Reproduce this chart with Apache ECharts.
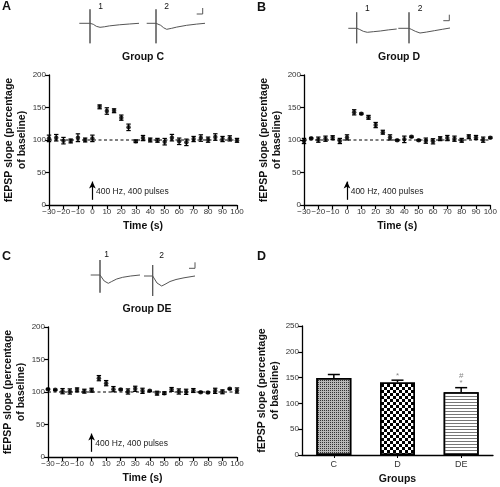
<!DOCTYPE html>
<html><head><meta charset="utf-8">
<script src="https://cdn.jsdelivr.net/npm/echarts@6/dist/echarts.min.js"></script>
<style>html,body{margin:0;padding:0;background:#fff}#c{width:500px;height:487px}</style>
</head><body><div id="c"></div><script>
// ---------- data ----------
const timeSec = [-30,-25,-20,-15,-10,-5,0,5,10,15,20,25,30,35,40,45,50,55,60,65,70,75,80,85,90,95,100];
const groupCMean = [102.5,103.5,99,98.5,103.5,100,102.5,151,144.6,145,134.4,119.5,98,103,100,99.5,97.4,103.6,98,96.4,101.5,103,100.5,104.6,101.5,102.5,99.5];
const groupCSem  = [5,5,5,3,6,3,5,3,5,3,4,5,2,4,3,3,5,5,5,5,4,5,4,5,4,4,3];
const groupDMean = [98.5,102.6,100.5,102,103.6,98.5,104,142.6,140.5,134.9,123,112,104,99.5,101,105,99.5,99,98,102,103,102,99.5,105,104,100.5,103.6];
const groupDSem  = [4,1,4,4,3,4,4,4,1,3,4,3,4,1,5,1,1,4,4,3,4,4,3,3,3,4,1];
const groupDEMean = [104.4,103.3,101.3,100.8,103.3,101.3,102.8,121.3,113.6,104.4,103.9,100.8,104.9,101.8,101.8,98.2,98.2,103.9,100.8,100.3,102.3,99.7,99.2,101.8,100.3,104.9,102.3];
const groupDESem  = [1,1,4,4,3,3,3,4,4,4,1,4,4,4,1,3,2,3,4,4,3,1,1,4,3,1,4];
const baselinePct = 100;
const stimArrow = [8, 36];          // arrow extent (percentage units) at t = 0
const stimLabel = '400 Hz, 400 pulses';

const barGroups = ['C','D','DE'];
const barMean = [149, 140.5, 121.5];
const barSem  = [7, 4.5, 9];
const barSig  = ['', '*', '#\n*'];

// example fEPSP traces: [time, amplitude] (arbitrary units, baseline 0)
const traceC1 = [[0,0],[10.7,0],[10.7,14],[10.7,-20],[10.7,0],[12,1],[14,-1],[17,-3],[20.7,-4],[25,-3.5],[30,-2.6],[40,-1.5],[50,-0.7],[59.7,0]];
const traceC2 = [[0,0],[9.3,0],[9.3,14],[9.3,-20],[9.3,0],[11,1],[14,-2],[17,-4.5],[20,-6],[25,-5],[30,-3.8],[40,-2],[50,-0.8],[58.3,0]];
const traceD1 = [[0,0],[8.4,0],[8.4,16],[8.4,-15],[8.4,0],[11,-1],[15,-3],[19,-4],[25,-3.4],[32,-2.7],[40,-1.6],[48.4,-0.7]];
const traceD2 = [[0,0],[10.7,0],[10.7,16],[10.7,-15],[10.7,0],[13,-1],[17,-3],[21.7,-4.7],[28,-3.8],[36,-2.4],[44,-1],[51.7,0.3]];
const traceDE1 = [[0,0],[9.3,0],[9.3,15],[9.3,-17.7],[9.3,0],[11,-2],[13.5,-6],[17.6,-8.3],[21,-6.5],[26,-4],[32,-2.3],[40,-1],[49.3,0]];
const traceDE2 = [[0,0],[8.7,0],[8.7,11],[8.7,-20],[8.7,0],[10.5,-2],[13,-7],[17.7,-10],[21,-8.3],[26,-5.5],[32,-3.5],[40,-1.8],[51,0]];
const scaleBar = [[-6,0],[0,0],[0,6]];

// ---------- layout ----------
const FONT = '"Liberation Sans", Arial, sans-serif';
const mainGrids = [
  {left:49, top:75, width:188, height:130},
  {left:304, top:75, width:189, height:130},
  {left:48, top:327, width:189, height:130},
  {left:302, top:326, width:191, height:131}
];
const insetGrids = [
  {left:70, top:0, width:150, height:50},
  {left:340, top:0, width:120, height:50},
  {left:80, top:250, width:130, height:50}
];
const insetTraces = [
  [{d:traceC1, x0:9.3, y0:23.3}, {d:traceC2, x0:76.7, y0:23.3}, {d:scaleBar, x0:132.7, y0:14}],
  [{d:traceD1, x0:8.3, y0:28.3}, {d:traceD2, x0:58.3, y0:28.3}, {d:scaleBar, x0:109.3, y0:20.7}],
  [{d:traceDE1, x0:10.7, y0:25}, {d:traceDE2, x0:64, y0:26}, {d:scaleBar, x0:115, y0:18.3}]
];

const axisLine = {show:true, onZero:false, lineStyle:{color:'#000', width:1.3}};
const axisTick = {show:true, length:4, lineStyle:{color:'#000', width:1.2}};
const axisLabel = {color:'#333', fontSize:8, fontFamily:FONT, margin:3};
const nameStyle = {color:'#111', fontSize:10.5, fontWeight:'bold', fontFamily:FONT, lineHeight:13};
const minus = v => String(v).replace('-', '\u2212');

const xAxes = [], yAxes = [], series = [];
const lineSets = [[groupCMean,groupCSem],[groupDMean,groupDSem],[groupDEMean,groupDESem]];

function errRender(params, api){
  const x = api.value(0), y = api.value(1), e = api.value(2);
  const hi = api.coord([x, y+e]), lo = api.coord([x, y-e]);
  const w = 2.2, style = {stroke:'#000', lineWidth:1.2};
  return {type:'group', children:[
    {type:'line', shape:{x1:hi[0],y1:hi[1],x2:lo[0],y2:lo[1]}, style},
    {type:'line', shape:{x1:hi[0]-w,y1:hi[1],x2:hi[0]+w,y2:hi[1]}, style},
    {type:'line', shape:{x1:lo[0]-w,y1:lo[1],x2:lo[0]+w,y2:lo[1]}, style}
  ]};
}

for (let g = 0; g < 3; g++) {
  xAxes.push({type:'value', gridIndex:g, min:-30, max:100, interval:10,
    axisLine, axisTick, splitLine:{show:false},
    axisLabel:{...axisLabel, formatter:minus},
    name:'Time (s)', nameLocation:'middle', nameGap:15, nameTextStyle:nameStyle});
  yAxes.push({type:'value', gridIndex:g, min:0, max:200, interval:50,
    axisLine, axisTick, splitLine:{show:false}, axisLabel,
    name:'fEPSP slope (percentage\nof baseline)', nameLocation:'middle', nameGap:14, nameTextStyle:nameStyle});
  const [m, s] = lineSets[g];
  series.push({type:'line', xAxisIndex:g, yAxisIndex:g, data:[[timeSec[0], baselinePct],[timeSec[timeSec.length-1], baselinePct]],
    symbol:'none', silent:true, lineStyle:{color:'#000', width:1, type:[3,2.5]}, z:1,
    markLine:{silent:true, symbol:['none','arrow'], symbolSize:[5,7], lineStyle:{color:'#000', width:1.2, type:'solid'},
      label:{show:false}, data:[[{coord:[0, stimArrow[0]]},{coord:[0, stimArrow[1]]}]]},
    markPoint:{silent:true, symbol:'circle', symbolSize:1, itemStyle:{color:'rgba(0,0,0,0)'},
      label:{show:true, position:'right', distance:0, formatter:stimLabel, color:'#222', fontSize:8.5, fontFamily:FONT},
      data:[{coord:[2.2, 20]}]}
  });
  series.push({type:'custom', xAxisIndex:g, yAxisIndex:g, renderItem:errRender, encode:{x:0,y:1},
    data: timeSec.map((t,i)=>[t, m[i], s[i]]), z:3});
  series.push({type:'scatter', xAxisIndex:g, yAxisIndex:g, symbol:'circle', symbolSize:4.5,
    itemStyle:{color:'#000'}, data: timeSec.map((t,i)=>[t, m[i]]), z:4});
}

// Panel D
xAxes.push({type:'category', gridIndex:3, data:barGroups, axisLine,
  axisTick:{show:true, alignWithLabel:true, length:3, lineStyle:{color:'#000'}},
  axisLabel:{...axisLabel, fontSize:9, margin:5},
  name:'Groups', nameLocation:'middle', nameGap:18, nameTextStyle:nameStyle});
yAxes.push({type:'value', gridIndex:3, min:0, max:250, interval:50,
  axisLine, axisTick, splitLine:{show:false}, axisLabel,
  name:'fEPSP slope (percentage\nof baseline)', nameLocation:'middle', nameGap:14, nameTextStyle:nameStyle});
const barFill = ['#b8b8b8', '#fff', '#fff'];
const decals = [
  {symbol:'rect', symbolSize:1, dashArrayX:[1,1], dashArrayY:[1,1], color:'#333'},
  {symbol:'rect', symbolSize:1, dashArrayX:[[3,3],[0,3,3,0]], dashArrayY:[3,0], color:'#000'},
  {symbol:'rect', symbolSize:1, dashArrayX:[1,0], dashArrayY:[1,2], color:'#777'}
];
series.push({type:'bar', xAxisIndex:3, yAxisIndex:3, barWidth:35,
  data: barMean.map((v,i)=>({value:v, itemStyle:{color:barFill[i], borderColor:'#000', borderWidth:1.5, decal:decals[i]}})), z:2});
series.push({type:'custom', xAxisIndex:3, yAxisIndex:3, encode:{x:0,y:1}, z:3,
  data: barMean.map((v,i)=>[i, v, barSem[i]]),
  renderItem(params, api){
    const i = api.value(0), v = api.value(1), e = api.value(2);
    const top = api.coord([i, v+e]), base = api.coord([i, v]);
    const style = {stroke:'#000', lineWidth:1.5};
    const children = [
      {type:'line', shape:{x1:top[0],y1:top[1],x2:base[0],y2:base[1]}, style},
      {type:'line', shape:{x1:top[0]-6,y1:top[1],x2:top[0]+6,y2:top[1]}, style}
    ];
    const sig = barSig[params.dataIndex];
    if (sig) children.push({type:'text', x:top[0], y:top[1]-1,
      style:{text:sig, fill:'#888', fontSize:8, lineHeight:7, fontFamily:FONT, align:'center', verticalAlign:'bottom'}});
    return {type:'group', children};
  }});

// insets
insetGrids.forEach((gr, k) => {
  const gi = 4 + k;
  xAxes.push({type:'value', gridIndex:gi, min:0, max:gr.width, show:false});
  yAxes.push({type:'value', gridIndex:gi, min:0, max:gr.height, inverse:true, show:false});
  insetTraces[k].forEach(tr => {
    series.push({type:'line', xAxisIndex:gi, yAxisIndex:gi, symbol:'none', silent:true,
      lineStyle:{color:'#555', width:1}, data: tr.d.map(p => [tr.x0 + p[0], tr.y0 - p[1]])});
  });
});

const txt = (x, y, text, size, bold, align='left') => ({type:'text', x, y,
  style:{text, fontSize:size, fontWeight:bold?'bold':'normal', fontFamily:FONT, fill:'#111', align, verticalAlign:'middle'}});
const graphic = [
  txt(2, 7, 'A', 12.5, true), txt(257, 8, 'B', 12.5, true), txt(2, 257, 'C', 12.5, true), txt(257, 257, 'D', 12.5, true),
  txt(143, 57, 'Group C', 10.5, true, 'center'), txt(399, 57, 'Group D', 10.5, true, 'center'), txt(147, 309, 'Group DE', 10.5, true, 'center'),
  txt(100.7, 7, '1', 8.5, false, 'center'), txt(166.7, 7, '2', 8.5, false, 'center'),
  txt(367.3, 8.5, '1', 8.5, false, 'center'), txt(420, 8.5, '2', 8.5, false, 'center'),
  txt(106.7, 255, '1', 8.5, false, 'center'), txt(161.7, 256, '2', 8.5, false, 'center')
];

const chart = echarts.init(document.getElementById('c'), null, {renderer:'canvas'});
chart.setOption({
  animation:false, backgroundColor:'#fff',
  grid: mainGrids.concat(insetGrids).map(g => ({...g, containLabel:false})),
  xAxis: xAxes, yAxis: yAxes, series, graphic
});
</script></body></html>
